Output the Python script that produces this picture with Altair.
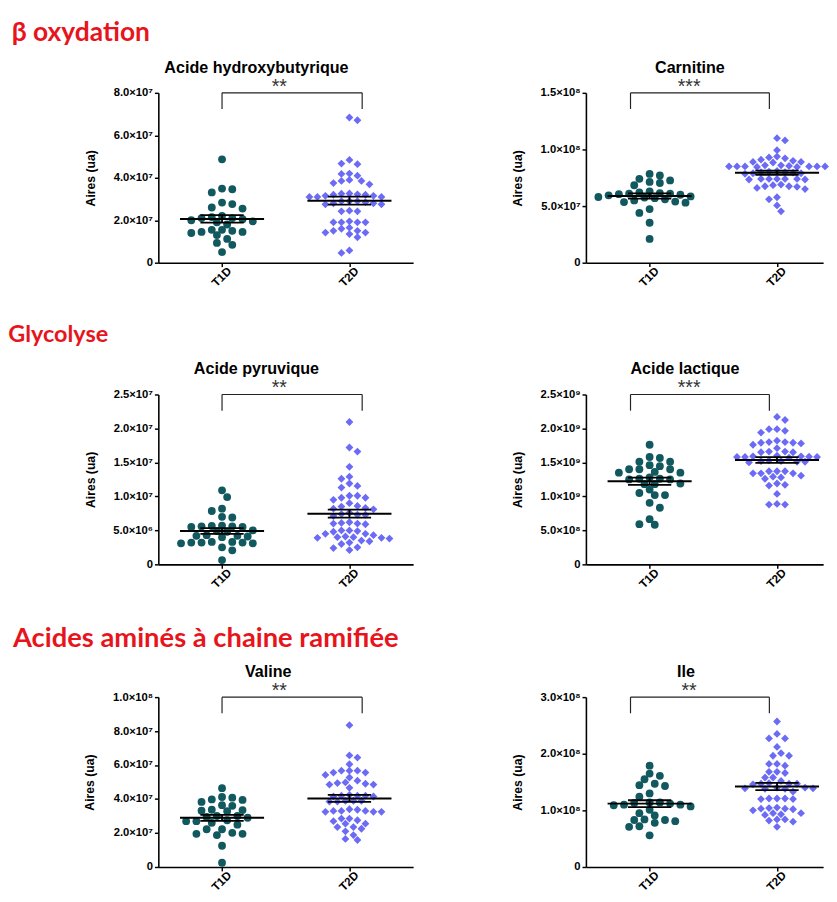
import altair as alt
import numpy as np
import pandas as pd

GROUPS = ["T1D", "T2D"]
COLORS = ["#11595f", "#6b6bf6"]
RED = "#e8141c"

# ---- data (values in the unit given for each panel) ----
# Acide hydroxybutyrique (x1e7)
hbut_t1d = [4.87, 3.49, 3.46, 3.31, 2.83, 2.76, 2.6, 2.55, 2.2, 2.15, 2.1, 2.1, 2.05, 2.0,
            1.95, 1.9, 1.8, 1.55, 1.5, 1.45, 1.45, 1.4, 1.55, 1.3, 1.12, 0.93, 0.84, 0.5]
hbut_t2d = [6.84, 6.71, 4.84, 4.64, 4.67, 4.18, 4.1, 4.2, 3.85, 3.9, 3.69, 3.75, 3.85, 3.26,
            3.22, 3.15, 3.1, 3.2, 3.1, 3.15, 3.1, 3.2, 3.25, 2.9, 2.8, 2.75, 2.8, 2.75, 2.9,
            2.9, 2.85, 2.42, 2.45, 2.42, 1.9, 1.9, 1.95, 1.9, 1.9, 1.6, 1.5, 1.42, 1.65, 1.42,
            1.5, 1.2, 1.35, 0.46, 0.58]
# Carnitine (x1e7)
carn_t1d = [7.84, 7.7, 7.41, 7.27, 7.13, 7.04, 6.84, 6.3, 6.2, 6.15, 6.1, 6.05, 6.1, 6.0, 5.95,
            5.85, 5.8, 5.75, 5.7, 5.6, 5.5, 5.4, 5.35, 5.3, 4.74, 4.4, 3.53, 2.1]
carn_t2d = [11.0, 10.8, 9.94, 9.37, 9.22, 9.3, 9.0, 8.9, 8.9, 8.85, 9.1, 8.5, 8.5, 8.45, 8.6,
            8.5, 8.55, 8.6, 8.45, 8.5, 8.5, 8.5, 8.1, 8.0, 8.0, 7.95, 7.9, 8.05, 7.9, 7.85, 7.4,
            7.35, 7.4, 7.4, 7.35, 7.4, 7.4, 6.9, 6.75, 6.6, 6.75, 6.5, 6.7, 6.85, 5.78, 5.6,
            5.06, 4.54]
# Acide pyruvique (x1e6)
pyr_t1d = [10.9, 9.9, 8.2, 7.85, 7.0, 6.9, 5.7, 5.6, 5.5, 5.6, 5.5, 5.65, 5.0, 4.9, 4.8, 4.3,
           4.2, 4.1, 4.2, 4.0, 3.3, 3.2, 3.1, 3.2, 3.1, 3.3, 3.2, 2.5, 2.07, 0.63]
pyr_t2d = [20.95, 17.2, 16.6, 14.35, 12.9, 12.6, 11.9, 11.55, 11.3, 10.1, 9.8, 9.5, 9.8, 10.1,
           9.0, 8.6, 8.3, 8.1, 8.5, 8.2, 7.6, 7.3, 7.1, 7.4, 7.3, 6.0, 6.1, 5.9, 6.0, 6.2, 5.0,
           4.9, 4.8, 5.0, 4.5, 3.9, 4.0, 3.8, 3.9, 4.1, 4.0, 4.3, 4.5, 3.5, 3.2, 3.0, 3.4, 2.5,
           2.1, 2.4]
# Acide lactique (x1e8)
lac_t1d = [17.6, 15.8, 15.65, 15.1, 14.6, 15.1, 14.45, 14.0, 14.0, 14.0, 13.6, 13.5, 13.5,
           12.8, 12.6, 12.5, 12.6, 12.5, 11.9, 11.8, 11.8, 11.0, 10.5, 10.2, 10.2, 9.05, 8.33,
           6.65, 5.83, 5.92]
lac_t2d = [21.7, 21.25, 19.9, 19.65, 19.9, 19.4, 18.2, 17.9, 18.0, 17.8, 17.6, 17.9, 18.0, 17.1,
           16.6, 16.5, 16.6, 16.5, 15.9, 15.85, 15.8, 15.7, 15.8, 15.9, 15.8, 16.0, 15.2, 15.1,
           15.3, 15.1, 15.0, 15.2, 13.7, 13.4, 13.4, 13.7, 13.4, 13.7, 12.6, 12.8, 12.9, 13.05,
           11.7, 11.6, 11.9, 10.36, 8.9, 8.8, 8.8]
# Valine (x1e7)
val_t1d = [4.64, 4.12, 3.95, 3.83, 3.98, 4.08, 3.6, 3.64, 3.37, 3.28, 3.31, 3.35, 3.0, 2.95,
           2.9, 3.0, 2.75, 2.7, 2.6, 2.7, 2.49, 2.22, 2.22, 1.95, 1.88, 1.95, 2.01, 1.25, 0.25]
val_t2d = [8.35, 6.57, 6.44, 6.05, 5.67, 5.56, 5.42, 5.27, 5.56, 5.67, 5.67, 5.08, 4.94, 4.85,
           4.66, 4.85, 4.9, 4.98, 4.25, 4.2, 4.15, 4.2, 4.2, 4.15, 3.9, 3.85, 3.9, 3.85, 3.9,
           3.4, 3.3, 3.3, 3.25, 3.25, 3.25, 3.3, 3.37, 2.85, 2.75, 2.7, 2.85, 2.55, 2.35, 2.25,
           2.1, 2.35, 2.55, 1.88, 1.59, 1.65]
# Ile (x1e7)
ile_t1d = [17.9, 16.1, 16.5, 15.5, 14.7, 14.3, 14.45, 13.0, 12.4, 11.4, 11.4, 11.3, 11.2, 11.0,
           10.9, 11.0, 10.7, 10.1, 9.1, 9.5, 8.4, 8.3, 8.1, 7.8, 8.3, 7.2, 7.1, 5.6]
ile_t2d = [25.7, 23.5, 22.7, 22.7, 21.2, 20.1, 19.65, 19.65, 18.2, 17.9, 18.2, 16.8, 16.6, 16.8,
           15.8, 15.8, 15.2, 14.8, 14.7, 14.7, 14.6, 14.7, 14.0, 13.8, 13.9, 14.0, 13.8, 13.9,
           13.3, 12.1, 12.0, 12.1, 12.0, 12.1, 10.4, 10.3, 10.5, 10.2, 10.0, 10.3, 9.5, 9.3,
           9.5, 9.2, 8.4, 8.2, 8.4, 8.0, 7.1]

titles = ["Acide hydroxybutyrique", "Carnitine", "Acide pyruvique", "Acide lactique",
          "Valine", "Ile"]
units = [1e7, 1e7, 1e6, 1e8, 1e7, 1e7]
ticks = [[0, 2, 4, 6, 8], [0, 5, 10, 15], [0, 5, 10, 15, 20, 25], [0, 5, 10, 15, 20, 25],
         [0, 2, 4, 6, 8, 10], [0, 10, 20, 30]]
stars = ["**", "***", "**", "***", "**", "**"]
series = [(hbut_t1d, hbut_t2d), (carn_t1d, carn_t2d), (pyr_t1d, pyr_t2d), (lac_t1d, lac_t2d),
          (val_t1d, val_t2d), (ile_t1d, ile_t2d)]
headers = ["β oxydation", "Glycolyse", "Acides aminés à chaine ramifiée"]

# ---- layout ----
H = 174
W_LEFT, W_RIGHT = 261, 243
UNIT_PX = 130.5
TITLE_DX = [-30, -15, -30, -20, -18, -19]
HEADER_SIZE = [27, 24, 28]
HEADER_DX = [-75, -78, -73]
HEADER_OFFSET = [14, 15, 12]

LABEL_EXPR = ("datum.value == 0 ? '0' : format(datum.value / pow(10, floor(log(datum.value)/LN10 + 1e-9)), '.1f')"
              " + '×10' + ['⁰','¹','²','³','⁴','⁵','⁶','⁷','⁸','⁹'][floor(log(datum.value)/LN10 + 1e-9)]")


def swarm(vals, ymax, step_px, dmin_px):
    """Greedy column-scatter layout: each point keeps its value, the
    horizontal offset is the closest free slot to the column centre."""
    v = np.asarray(vals, dtype=float)
    py = v / ymax * H
    order = np.argsort(-py)
    placed = []
    offs = np.zeros(len(v))
    side = 1
    for i in order:
        chosen = None
        for k in range(0, 60):
            c = k * step_px / 2
            opts = [0.0] if k == 0 else [side * c, -side * c]
            for cand in opts:
                if all((cand - px) ** 2 + (py[i] - pyy) ** 2 >= dmin_px ** 2 for px, pyy in placed):
                    chosen = cand
                    break
            if chosen is not None:
                break
        if chosen != 0:
            side = -side
        placed.append((chosen, py[i]))
        offs[i] = chosen / UNIT_PX
    return offs


def panel(i):
    left = i % 2 == 0
    unit = units[i]
    ymax = ticks[i][-1] * unit
    rows = []
    summ = []
    for g, vals in enumerate(series[i]):
        vv = np.asarray(vals) * unit
        offs = swarm(vv, ymax, 10.5, 7.4) if g == 0 else swarm(vv, ymax, 8.2, 6.4)
        for v, o in zip(vv, offs):
            rows.append({"grp": GROUPS[g], "x": g + o, "y": v})
        m = vv.mean()
        se = vv.std(ddof=1) / np.sqrt(len(vv))
        summ.append({"gi": g, "mean": m, "lo": m - se, "hi": m + se,
                     "m1": g - 0.33, "m2": g + 0.33, "c1": g - 0.17, "c2": g + 0.17})
    df = pd.DataFrame(rows)
    sdf = pd.DataFrame(summ)
    b1, b2, sx = (0.0, 1.1, 0.45) if left else (-0.15, 0.94, 0.31)
    bdf = pd.DataFrame([{"b1": b1, "b2": b2, "sx": sx, "top": ymax, "tip": ymax * 0.905,
                         "s": stars[i]}])

    W = W_LEFT if left else W_RIGHT
    xdom = [-0.5, 1.5] if left else [-0.5, -0.5 + W_RIGHT / UNIT_PX]
    xsc = alt.Scale(domain=xdom, nice=False, zero=False)
    ysc = alt.Scale(domain=[0, ymax], nice=False, zero=True)
    xax = alt.Axis(values=[0, 1], labelExpr="datum.value == 0 ? 'T1D' : 'T2D'", title=None,
                   labelAngle=-45, labelAlign="right", labelBaseline="middle", labelFontSize=12,
                   labelPadding=2, labelOffset=7, grid=False)
    yax = alt.Axis(values=[t * unit for t in ticks[i]], labelExpr=LABEL_EXPR, title="Aires (ua)",
                   titlePadding=16, grid=False, labelFontSize=11.5, labelPadding=2)

    def X(f):
        return alt.X(f, type="quantitative", scale=xsc, axis=xax)

    def Y(f):
        return alt.Y(f, type="quantitative", scale=ysc, axis=yax)

    pts = alt.Chart(df).mark_point(filled=True, size=64, opacity=1, strokeWidth=0).encode(
        x=X("x"), y=Y("y"),
        shape=alt.Shape("grp:N", scale=alt.Scale(domain=GROUPS, range=["circle", "diamond"]), legend=None),
        color=alt.Color("grp:N", scale=alt.Scale(domain=GROUPS, range=COLORS), legend=None),
    )
    sb = alt.Chart(sdf)
    mean_r = sb.mark_rule(color="black", strokeWidth=2).encode(x=X("m1"), x2="m2", y=Y("mean"))
    hi_r = sb.mark_rule(color="black", strokeWidth=1.8).encode(x=X("c1"), x2="c2", y=Y("hi"))
    lo_r = sb.mark_rule(color="black", strokeWidth=1.8).encode(x=X("c1"), x2="c2", y=Y("lo"))
    v_r = sb.mark_rule(color="black", strokeWidth=1.8).encode(x=X("gi"), y=Y("lo"), y2="hi")
    bb = alt.Chart(bdf)
    br_h = bb.mark_rule(color="#222", strokeWidth=1.2).encode(x=X("b1"), x2="b2", y=Y("top"))
    br_l = bb.mark_rule(color="#222", strokeWidth=1.2).encode(x=X("b1"), y=Y("top"), y2="tip")
    br_r = bb.mark_rule(color="#222", strokeWidth=1.2).encode(x=X("b2"), y=Y("top"), y2="tip")
    st = bb.mark_text(fontSize=20, font="Liberation Sans", color="#333", dy=-6,
                      baseline="middle").encode(x=X("sx"), y=Y("top"), text="s:N")
    return alt.layer(pts, mean_r, hi_r, lo_r, v_r, br_h, br_l, br_r, st).properties(
        width=W, height=H,
        title=alt.TitleParams(titles[i], anchor="middle", frame="group", dx=TITLE_DX[i],
                              font="Liberation Sans", fontSize=16.5, fontWeight="bold",
                              color="black", offset=1),
    )


rows = []
for r in range(3):
    rows.append(alt.hconcat(panel(2 * r), panel(2 * r + 1), spacing=101).properties(
        title=alt.TitleParams(headers[r], anchor="start", frame="bounds", dx=HEADER_DX[r],
                              font="Lato", fontSize=HEADER_SIZE[r], fontWeight="bold",
                              color=RED, offset=HEADER_OFFSET[r])))

chart = alt.vconcat(*rows, spacing=35).properties(
    padding={"left": 0, "top": 0, "right": 0, "bottom": 0}
).configure_view(stroke=None).configure_axis(
    domainColor="black", domainWidth=1.6, tickColor="black", tickWidth=1.5, tickSize=4,
    labelFont="Liberation Sans", labelFontWeight="bold", labelColor="black",
    titleFont="Liberation Sans", titleFontWeight="bold", titleFontSize=12.5, titleColor="black",
)

chart.save("out.html", embed_options={"renderer": "svg", "actions": False})
